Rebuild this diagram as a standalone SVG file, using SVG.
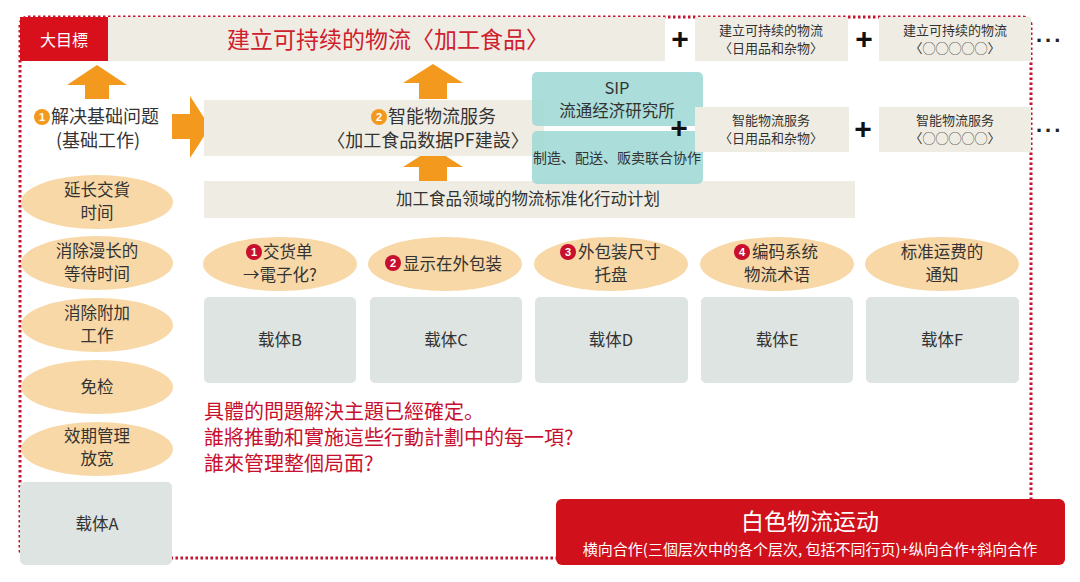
<svg xmlns="http://www.w3.org/2000/svg" width="1080" height="582" viewBox="0 0 1080 582">
<style>
text{font-family:"Noto Sans CJK SC","Noto Sans CJK TC",sans-serif;fill:#333}
.c{text-anchor:middle}
.beige{fill:#efede3}
.ell{fill:#f8d8a6}
.gray{fill:#dde4e1}
.teal{fill:#9fd9d5;opacity:0.88}
.arr{fill:#f39a1e}
.plus{font-family:"Liberation Sans",sans-serif;font-weight:bold;font-size:30px;fill:#111;text-anchor:middle}
.dots{font-family:"Liberation Sans",sans-serif;font-weight:bold;font-size:22px;fill:#222;letter-spacing:3px}
.red{fill:#c8102e}
.numc{fill:#fff;font-family:"Liberation Sans",sans-serif;font-weight:bold;font-size:11px;text-anchor:middle}
.f17{font-size:16.5px}
.f13{font-size:13px}
</style>

<g id="frame">
<rect x="20" y="17" width="1011" height="541" rx="8" fill="none" stroke="#c4122f" stroke-width="3" stroke-dasharray="2.5 2.5"/>
</g>

<g id="goal">
<rect class="beige" x="20" y="17" width="645" height="44"/>
<rect x="20" y="17" width="88" height="44" fill="#d7101c"/>
<text x="64" y="46" class="c" style="fill:#fff;font-size:16px">大目標</text>
<text x="388" y="48" class="c" style="fill:#d0202e;font-size:23px">建立可持续的物流〈加工食品〉</text>
</g>
<g id="goal2">
<text x="680" y="49" class="plus">+</text>
<rect class="beige" x="695" y="17" width="153" height="44"/>
<text x="771" y="35" class="c f13">建立可持续的物流</text>
<text x="771" y="53" class="c f13">〈日用品和杂物〉</text>
</g>
<g id="goal3">
<text x="864" y="49" class="plus">+</text>
<rect class="beige" x="879" y="17" width="152" height="44"/>
<text x="955" y="35" class="c f13">建立可持续的物流</text>
<text x="955" y="53" class="c f13">〈◯◯◯◯◯〉</text>
<text x="1036" y="42" class="dots">...</text>
</g>

<g id="connectors">
<polygon class="arr" points="97,65 127,85 109,85 109,99 85,99 85,85 67,85"/>
<polygon class="arr" points="433,64 463,83 447,83 447,99 419,99 419,83 403,83"/>
<polygon class="arr" points="433,148 463,167 447,167 447,181 419,181 419,167 403,167"/>
<polygon class="arr" points="172,114 190,114 190,96 210,127 190,158 190,139 172,139"/>
</g>

<g id="basic">
<circle cx="42" cy="117" r="8" class="arr"/>
<text x="42" y="121" class="numc">1</text>
<text x="51" y="123" style="font-size:18px">解决基础问题</text>
<text x="98" y="147" class="c" style="font-size:18px">(基础工作)</text>
</g>

<g id="smart">
<rect class="beige" x="204" y="100" width="340" height="56"/>
<circle cx="379" cy="117" r="8" class="arr"/>
<text x="379" y="121" class="numc">2</text>
<text x="388" y="123" style="font-size:18px">智能物流服务</text>
<text x="428" y="147" class="c" style="font-size:18px">〈加工食品数据PF建設〉</text>
</g>

<g id="plan">
<rect class="beige" x="204" y="181" width="651" height="37"/>
<text x="528" y="205" class="c" style="font-size:16.5px">加工食品领域的物流标准化行动计划</text>
</g>

<g id="sip">
<rect class="teal" x="532" y="72" width="171" height="54" rx="5"/>
<text x="617" y="94" class="c f17">SIP</text>
<text x="617" y="117" class="c f17">流通经济研究所</text>
</g>
<g id="collab">
<rect class="teal" x="532" y="131" width="171" height="53" rx="5"/>
<text x="617" y="163" class="c" style="font-size:14px">制造、配送、贩卖联合协作</text>
</g>

<g id="smart2">
<text x="679" y="138" class="plus">+</text>
<rect class="beige" x="695" y="107" width="154" height="45"/>
<text x="771" y="125" class="c f13">智能物流服务</text>
<text x="771" y="143" class="c f13">〈日用品和杂物〉</text>
</g>
<g id="smart3">
<text x="863" y="139" class="plus">+</text>
<rect class="beige" x="879" y="107" width="152" height="45"/>
<text x="955" y="125" class="c f13">智能物流服务</text>
<text x="955" y="143" class="c f13">〈◯◯◯◯◯〉</text>
<text x="1036" y="132" class="dots">...</text>
</g>

<g id="left1"><ellipse class="ell" cx="97" cy="202" rx="76" ry="27"/>
<text x="97" y="196" class="c f17">延长交貨</text><text x="97" y="219" class="c f17">时间</text></g>
<g id="left2"><ellipse class="ell" cx="97" cy="263" rx="76" ry="27"/>
<text x="97" y="257" class="c f17">消除漫长的</text><text x="97" y="280" class="c f17">等待时间</text></g>
<g id="left3"><ellipse class="ell" cx="97" cy="325" rx="76" ry="27"/>
<text x="97" y="319" class="c f17">消除附加</text><text x="97" y="342" class="c f17">工作</text></g>
<g id="left4"><ellipse class="ell" cx="97" cy="387" rx="76" ry="27"/>
<text x="97" y="393" class="c f17">免检</text></g>
<g id="left5"><ellipse class="ell" cx="97" cy="449" rx="76" ry="27"/>
<text x="97" y="442" class="c f17">效期管理</text><text x="97" y="465" class="c f17">放宽</text></g>
<g id="carrierA"><rect class="gray" x="20" y="482" width="152" height="83" rx="5"/>
<text x="97" y="530" class="c f17">载体A</text></g>

<g id="item1"><ellipse class="ell" cx="280" cy="264" rx="77" ry="27"/>
<circle cx="254" cy="252" r="8" class="red"/><text x="254" y="256" class="numc">1</text>
<text x="263" y="258" class="f17">交货单</text><text x="280" y="281" class="c f17">→電子化?</text></g>
<g id="item2"><ellipse class="ell" cx="445" cy="264" rx="77" ry="27"/>
<circle cx="393" cy="263" r="8" class="red"/><text x="393" y="267" class="numc">2</text>
<text x="403" y="270" class="f17">显示在外包装</text></g>
<g id="item3"><ellipse class="ell" cx="611" cy="264" rx="77" ry="27"/>
<circle cx="568" cy="252" r="8" class="red"/><text x="568" y="256" class="numc">3</text>
<text x="578" y="258" class="f17">外包装尺寸</text><text x="611" y="281" class="c f17">托盘</text></g>
<g id="item4"><ellipse class="ell" cx="777" cy="264" rx="77" ry="27"/>
<circle cx="742" cy="252" r="8" class="red"/><text x="742" y="256" class="numc">4</text>
<text x="752" y="258" class="f17">编码系统</text><text x="777" y="281" class="c f17">物流术语</text></g>
<g id="item5"><ellipse class="ell" cx="942" cy="264" rx="77" ry="27"/>
<text x="942" y="258" class="c f17">标准运费的</text><text x="942" y="281" class="c f17">通知</text></g>

<g id="carrierB"><rect class="gray" x="204" y="297" width="152" height="86" rx="5"/><text x="280" y="346" class="c f17">载体B</text></g>
<g id="carrierC"><rect class="gray" x="370" y="297" width="152" height="86" rx="5"/><text x="446" y="346" class="c f17">载体C</text></g>
<g id="carrierD"><rect class="gray" x="535" y="297" width="153" height="86" rx="5"/><text x="611" y="346" class="c f17">载体D</text></g>
<g id="carrierE"><rect class="gray" x="701" y="297" width="152" height="86" rx="5"/><text x="777" y="346" class="c f17">载体E</text></g>
<g id="carrierF"><rect class="gray" x="866" y="297" width="153" height="86" rx="5"/><text x="942" y="346" class="c f17">载体F</text></g>

<g id="question">
<text x="204" y="419" style="fill:#c8102e;font-size:20px">具體的問題解決主題已經確定。</text>
<text x="204" y="445" style="fill:#c8102e;font-size:20px">誰將推動和實施這些行動計劃中的每一項?</text>
<text x="204" y="471" style="fill:#c8102e;font-size:20px">誰來管理整個局面?</text>
</g>

<g id="movement">
<rect x="556" y="499" width="509" height="66" rx="6" fill="#d0101b"/>
<text x="810" y="530" class="c" style="fill:#fff;font-size:23px">白色物流运动</text>
<text x="810" y="555" class="c" style="fill:#fff;font-size:15px">横向合作(三個层次中的各个层次, 包括不同行页)+纵向合作+斜向合作</text>
</g>
</svg>
